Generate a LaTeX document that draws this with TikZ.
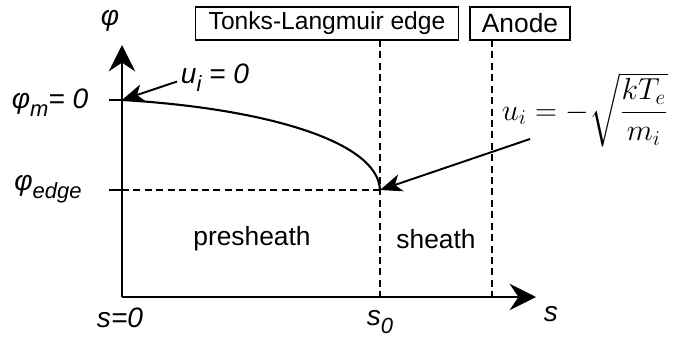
\documentclass[tikz,border=0pt]{standalone}
\usepackage{amsmath}
\usepackage{fontspec}
\setmainfont{Liberation Sans}
\usetikzlibrary{positioning,arrows.meta}
\newcommand{\lowsub}[1]{\raisebox{-0.55ex}{\fontsize{12.5}{13}\selectfont #1}}

\begin{document}
\begin{tikzpicture}[x=0.02cm, y=-0.02cm,
    axis/.style={line width=1.5pt, -{Stealth[length=15pt, width=15pt, inset=5pt]}},
    pointer/.style={line width=1.1pt, -{Stealth[length=12.5pt, width=10pt, inset=3.5pt]}},
    guide/.style={line width=0.8pt, dash pattern=on 4pt off 2.5pt},
    tick/.style={line width=1.1pt},
    tag/.style={draw, line width=0.8pt, minimum height=0.66cm, inner sep=0pt, font=\fontsize{14}{16}\selectfont},
    lbl/.style={inner sep=1pt, font=\fontsize{16}{18}\selectfont\itshape},
    region/.style={font=\fontsize{15}{17}\selectfont}]
  \useasboundingbox (0,0) rectangle (675,341);
  % axes
  \coordinate (origin) at (122,297);
  \coordinate (ytip) at (122,45);
  \coordinate (xtip) at (536,297);
  \draw[axis] (origin) -- (ytip);
  \draw[axis] (origin) -- (xtip);
  % levels
  \coordinate (phim) at (122,100);
  \coordinate (phie) at (122,190);
  \coordinate (edge) at (380,190);
  \draw[tick] (109,100) -- (phim);
  \draw[tick] (109,190) -- (phie);
  \draw[guide] (phie) -- (edge);
  % potential profile
  \draw[line width=1.2pt] (phim) .. controls (260,108) and (378,140) .. (edge);
  % boundaries
  \node[tag, minimum width=5.26cm] (tonks) at (327,23.5) {Tonks-Langmuir edge};
  \node[tag, minimum width=2cm, font=\fontsize{15}{17}\selectfont] (anode) at (520,23.5) {Anode};
  \draw[guide] (380,40) -- (380,297);
  \draw[guide] (492,40) -- (492,297);
  % labels
  \node[lbl] (phi) at (110,21) {φ};
  \node[lbl] (phimlbl) at (50,103) {φ\lowsub{m}= 0};
  \node[lbl] (phielbl) at (48,189) {φ\lowsub{edge}};
  \node[lbl] (uzero) at (215,78) {u\lowsub{i} = 0};
  \node[font=\fontsize{16.5}{18}\selectfont] (ubohm) at (585,110) {$u_i = -\sqrt{\dfrac{kT_e}{m_i}}$};
  \node[region] (pre) at (252,239) {presheath};
  \node[region] (sh) at (436,239) {sheath};
  \node[lbl] (szero) at (120,318) {s=0};
  \node[lbl] (sedge) at (380,322) {s\lowsub{0}};
  \node[lbl] (saxis) at (551,314) {s};
  % pointers
  \draw[pointer] ([xshift=-1pt, yshift=-2pt]uzero.west) -- (phim);
  \draw[pointer] (530,139) -- (edge);
\end{tikzpicture}
\end{document}
